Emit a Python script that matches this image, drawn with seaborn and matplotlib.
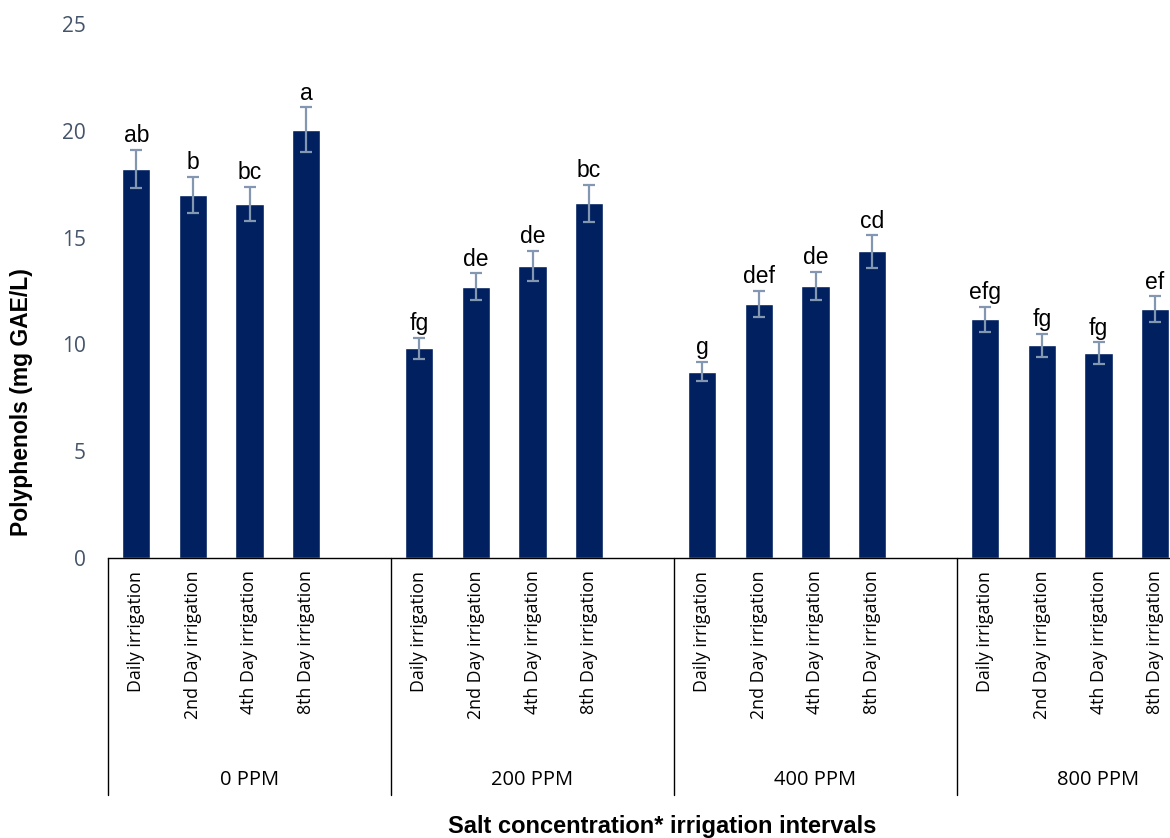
import numpy as np
import pandas as pd
import matplotlib
matplotlib.use("Agg")
import matplotlib.pyplot as plt
import matplotlib.transforms as mtransforms
import seaborn as sns

# ---- data ----
salt_levels = ["0 PPM", "200 PPM", "400 PPM", "800 PPM"]
intervals = ["Daily irrigation", "2nd Day irrigation", "4th Day irrigation", "8th Day irrigation"]
means_0 = [18.2, 17.0, 16.57, 20.06]
means_200 = [9.82, 12.69, 13.69, 16.61]
means_400 = [8.73, 11.91, 12.73, 14.35]
means_800 = [11.18, 9.96, 9.6, 11.65]
err_0 = [0.9, 0.86, 0.8, 1.05]
err_200 = [0.5, 0.63, 0.7, 0.86]
err_400 = [0.45, 0.61, 0.67, 0.75]
err_800 = [0.59, 0.53, 0.5, 0.61]
letters_0 = ["ab", "b", "bc", "a"]
letters_200 = ["fg", "de", "de", "bc"]
letters_400 = ["g", "def", "de", "cd"]
letters_800 = ["efg", "fg", "fg", "ef"]
y_ticks = [0, 5, 10, 15, 20, 25]

means = [means_0, means_200, means_400, means_800]
errs = [err_0, err_200, err_400, err_800]
letters = [letters_0, letters_200, letters_400, letters_800]

slots = 5  # 4 bars + 1 empty slot per group
rows = []
for g, salt in enumerate(salt_levels):
    for i, iv in enumerate(intervals):
        rows.append(dict(salt=salt, interval=iv, pos=g * slots + i + 0.5,
                         mean=means[g][i], err=errs[g][i], letter=letters[g][i]))
df = pd.DataFrame(rows)

sns.set_theme(style="white")
plt.rcParams['font.family'] = ['Liberation Sans', 'DejaVu Sans']

W, H = 1170, 838
fig = plt.figure(figsize=(W / 100, H / 100), dpi=100)
ax = fig.add_axes([108 / W, (H - 558) / H, 1 - 108 / W, (558 - 24) / H])

bar_color = "#002060"
err_color = "#8497B0"

sns.barplot(data=df, x="pos", y="mean", native_scale=True, width=0.5,
            color=bar_color, saturation=1, errorbar=None, ax=ax, zorder=2)
ax.errorbar(df["pos"], df["mean"], yerr=df["err"], fmt="none", ecolor=err_color,
            elinewidth=1.6, capsize=4.5, capthick=1.6, zorder=3)

for _, r in df.iterrows():
    ax.text(r["pos"], r["mean"] + r["err"] + 0.12, r["letter"], ha="center", va="bottom",
            fontsize=16.5, color="black")

ax.set_xlim(0, (W - 108) / 56.6)
ax.set_ylim(0, 25)
ax.set_yticks(y_ticks)
ax.set_yticklabels([str(t) for t in y_ticks], fontsize=15, color="#44546A",
                   family=['Open Sans', 'DejaVu Sans'])
ax.tick_params(axis="y", length=0, pad=16)

ax.set_xticks(df["pos"])
ax.set_xticklabels(df["interval"], rotation=90, fontsize=12.8, va="top", ha="center",
                   color="black", family=['Open Sans', 'DejaVu Sans'])
ax.tick_params(axis="x", length=0, pad=9)
ax.set_xlabel("")
ax.set_ylabel("")

for s in ["left", "right", "top"]:
    ax.spines[s].set_visible(False)
ax.spines["bottom"].set_color("black")
ax.spines["bottom"].set_linewidth(1.0)

trans = mtransforms.blended_transform_factory(ax.transData, ax.transAxes)
ybot = -(795 - 558) / (558 - 24)
for g in range(len(salt_levels)):
    ax.plot([g * slots, g * slots], [0, ybot], transform=trans, color="black",
            lw=1.0, clip_on=False)
    ax.text(g * slots + slots / 2, -(780 - 558) / (558 - 24), salt_levels[g], transform=trans,
            ha="center", va="center", fontsize=14.5, color="black",
            family=['Open Sans', 'DejaVu Sans'])

fig.text(662 / W, 1 - 826 / H, "Salt concentration* irrigation intervals", ha="center",
         va="center", fontsize=17, fontweight="bold", color="black")
fig.text(22 / W, 1 - 402 / H, "Polyphenols (mg GAE/L)", ha="center", va="center",
         rotation=90, fontsize=16.5, fontweight="bold", color="black")

fig.savefig("out.png", dpi=100)
